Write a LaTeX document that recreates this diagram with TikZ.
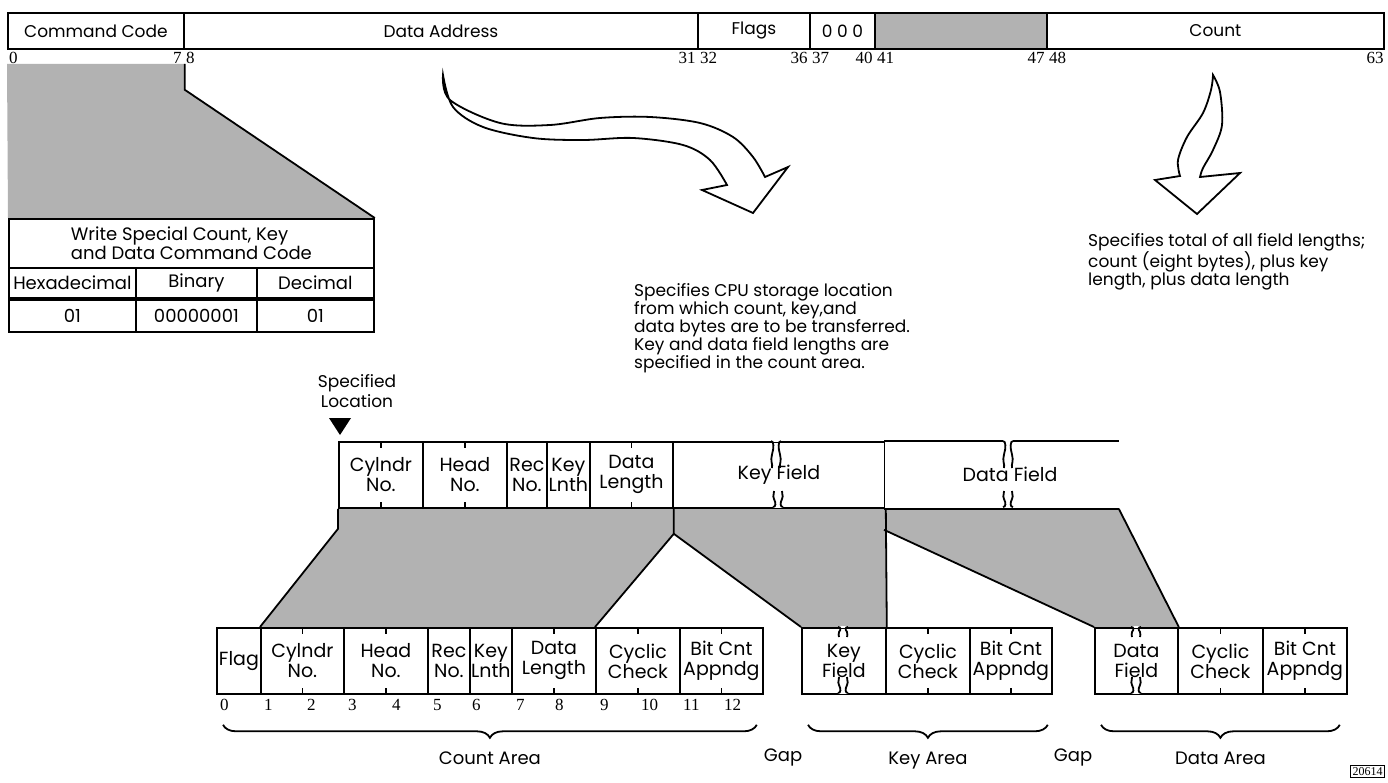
\documentclass[tikz,border=0pt]{standalone}
\usepackage{fontspec}
\setmainfont{Poppins}
\newfontfamily\numfont{Liberation Serif}
\usetikzlibrary{positioning, decorations.pathreplacing, backgrounds}

\begin{document}
\begin{tikzpicture}[x=1pt, y=-1pt,
        fld/.style={rectangle, draw, line width=1.8pt, fill=white, anchor=north west, inner sep=0pt, align=center},
        bar/.style={fld, minimum height=36pt, font=\fontsize{17}{20}\selectfont},
        rec/.style={fld, minimum height=66pt, font=\fontsize{19}{20}\selectfont},
        tbl/.style={fld, font=\fontsize{18}{19}\selectfont},
        bitno/.style={inner sep=0pt, font=\numfont\fontsize{17}{17}\selectfont},
        note/.style={inner sep=0pt, anchor=north west, align=left, font=\fontsize{17}{18}\selectfont},
        area/.style={inner sep=0pt, font=\fontsize{18}{20}\selectfont},
        shade/.style={fill=black!30},
        edge/.style={line width=1.8pt},
        curly/.style={decorate, decoration={brace, mirror, amplitude=13pt}, line width=1.8pt},
        pics/tear/.style={code={
            \fill[white] (-5,-1.4) rectangle (5,1.4);
            \draw[edge] (-5,0) .. controls (-2,0) and (-2,{0.25*#1}) .. (-4,{0.5*#1}) .. controls (-6,{0.75*#1}) and (-3,{0.85*#1}) .. (-4,#1);
            \draw[edge] (5,0) .. controls (2,0) and (2,{0.25*#1}) .. (4,{0.5*#1}) .. controls (6,{0.75*#1}) and (3,{0.85*#1}) .. (4,#1);
        }}
    ]
    \useasboundingbox (0,0) rectangle (1388,783);

    % Command word
    \node[bar, minimum width=176pt] (cmd) at (7,12) {Command Code};
    \node[bar, minimum width=514pt] (addr) at (183,12) {Data Address};
    \node[bar, minimum width=112pt] (flags) at (697,12) {Flags};
    \node[bar, minimum width=65pt] (zeros) at (809,12) {0 0 0};
    \node[bar, minimum width=172pt, shade] (spare) at (874,12) {};
    \node[bar, minimum width=337pt] (count) at (1046,12) {Count};

    % Bit numbers
    \node[bitno, below right=2pt and 2pt of cmd.south west] (n0) {0};
    \node[bitno, below left=2pt and 3pt of cmd.south east] (n7) {7};
    \node[bitno, below right=2pt and 3pt of addr.south west] (n8) {8};
    \node[bitno, below left=2pt and 3pt of addr.south east] (n31) {31};
    \node[bitno, below right=2pt and 3pt of flags.south west] (n32) {32};
    \node[bitno, below left=2pt and 3pt of flags.south east] (n36) {36};
    \node[bitno, below right=2pt and 3pt of zeros.south west] (n37) {37};
    \node[bitno, below left=2pt and 3pt of zeros.south east] (n40) {40};
    \node[bitno, below right=2pt and 3pt of spare.south west] (n41) {41};
    \node[bitno, below left=2pt and 3pt of spare.south east] (n47) {47};
    \node[bitno, below right=2pt and 3pt of count.south west] (n48) {48};
    \node[bitno, below left=2pt and 1pt of count.south east] (n63) {63};

    % Command code table
    \node[tbl, minimum width=365pt, minimum height=49pt, align=left] (ttl) at (8,218) {Write Special Count, Key\\and Data Command Code};
    \node[tbl, minimum width=127pt, minimum height=30pt] (hex) at (8,267) {Hexadecimal};
    \node[tbl, minimum width=121pt, minimum height=30pt] (bin) at (135,267) {Binary};
    \node[tbl, minimum width=117pt, minimum height=30pt] (dec) at (256,267) {Decimal};
    \node[tbl, minimum width=127pt, minimum height=32pt] (hexv) at (8,299) {01};
    \node[tbl, minimum width=121pt, minimum height=32pt] (binv) at (135,299) {00000001};
    \node[tbl, minimum width=117pt, minimum height=32pt] (decv) at (256,299) {01};

    % Hollow arrows
    \draw[edge, fill=white] plot[smooth, tension=0.55] coordinates {(443,75) (450,100) (500,123) (550,125) (600,118) (650,117) (700,123) (733,137) (753,157) (765,177)}
        -- (788,167) -- (753,213) -- (702,190)
        -- plot[smooth, tension=0.55] coordinates {(727,185) (710,160) (683,145) (633,138) (583,140) (533,138) (483,127) (453,107) (443,75)} -- cycle;
    \draw[edge, fill=white] plot[smooth, tension=0.55] coordinates {(1213,75) (1220,92) (1222,125) (1213,150) (1203,168) (1200,177)}
        -- (1240,173) -- (1197,214) -- (1155,180)
        -- plot[smooth, tension=0.55] coordinates {(1180,176) (1178,160) (1187,137) (1203,113) (1211,90) (1213,75)} -- cycle;

    % Notes
    \node[note] (cpunote) at (634,283) {Specifies CPU storage location\\from which count, key,and\\data bytes are to be transferred.\\Key and data field lengths are\\specified in the count area.};
    \node[note] (cntnote) at (1088,233) {Specifies total of all field lengths;\\count (eight bytes), plus key\\length, plus data length};

    % Record in storage
    \node[rec, minimum width=84pt] (mcyl) at (338,441) {Cylndr\\No.};
    \node[rec, minimum width=84pt] (mhead) at (422,441) {Head\\No.};
    \node[rec, minimum width=40pt] (mrec) at (506,441) {Rec\\No.};
    \node[rec, minimum width=43pt] (mkey) at (546,441) {Key\\Lnth};
    \node[rec, minimum width=83pt] (mdlen) at (589,441) {Data\\Length};
    \node[rec, minimum width=212pt] (mkfld) at (672,441) {Key Field};
    \node[rec, minimum width=233pt, draw=none] (mdfld) at (884,441) {};
    \node[area, font=\fontsize{19}{20}\selectfont] (mdlbl) at (1010,474) {Data Field};
    \draw[edge] (mdfld.north east) -- (mdfld.north west) (mdfld.south west) -- (mdfld.south east);

    \node[area, align=center, font=\fontsize{17}{20}\selectfont] (loc) at (357,391) {Specified\\Location};
    \coordinate (tip) at ([xshift=2pt, yshift=6pt]mcyl.north west);
    \fill (tip) -- ++(-11,-17) -- ++(22,0) -- cycle;

    % Record on track
    \node[rec, minimum width=44pt] (bflag) at (216,627) {Flag};
    \node[rec, minimum width=83pt] (bcyl) at (260,627) {Cylndr\\No.};
    \node[rec, minimum width=84pt] (bhead) at (343,627) {Head\\No.};
    \node[rec, minimum width=42pt] (brec) at (427,627) {Rec\\No.};
    \node[rec, minimum width=42pt] (bkey) at (469,627) {Key\\Lnth};
    \node[rec, minimum width=84pt] (bdlen) at (511,627) {Data\\Length};
    \node[rec, minimum width=84pt] (bcrc) at (595,627) {Cyclic\\Check};
    \node[rec, minimum width=83pt] (bbit) at (679,627) {Bit Cnt\\Appndg};
    \node[rec, minimum width=84pt] (bkfld) at (801,627) {Key\\Field};
    \node[rec, minimum width=84pt] (bkcrc) at (885,627) {Cyclic\\Check};
    \node[rec, minimum width=82pt] (bkbit) at (969,627) {Bit Cnt\\Appndg};
    \node[rec, minimum width=83pt] (bdfld) at (1094,627) {Data\\Field};
    \node[rec, minimum width=85pt] (bdcrc) at (1177,627) {Cyclic\\Check};
    \node[rec, minimum width=84pt] (bdbit) at (1262,627) {Bit Cnt\\Appndg};

    % Shaded mappings
    \coordinate (cs1) at ([yshift=-14pt]cmd.south west);
    \coordinate (cs2) at ([yshift=-14pt]cmd.south east);
    \coordinate (cs3) at ([yshift=-40pt]cmd.south east);
    \coordinate (cl) at ([yshift=-20pt]mcyl.south west);
    \coordinate (kt) at ([yshift=-25pt]mdlen.south east);
    \coordinate (dt) at ([yshift=-21pt]mdfld.south west);
    \begin{scope}[on background layer]
        \fill[shade] (cs1) -- (cs2) -- (cs3) -- (ttl.north east) -- (ttl.north west) -- cycle;
        \fill[shade] (mcyl.south west) -- (mdlen.south east) -- (kt) -- (bcrc.north west) -- (bcyl.north west) -- (cl) -- cycle;
        \fill[shade] (mkfld.south west) -- (mkfld.south east) -- (bkfld.north east) -- (bkfld.north west) -- (kt) -- cycle;
        \fill[shade] (mdfld.south west) -- (mdfld.south east) -- (bdfld.north east) -- (bdfld.north west) -- (dt) -- cycle;
    \end{scope}
    \draw[edge] (cs2) -- (cs3) -- (ttl.north east);
    \draw[edge] (mcyl.south west) -- (cl) -- (bcyl.north west);
    \draw[edge] (mdlen.south east) -- (kt) -- (bcrc.north west);
    \draw[edge] (kt) -- (bkfld.north west);
    \draw[edge] (mkfld.south east) -- (bkfld.north east);
    \draw[edge] (dt) -- (bdfld.north west);
    \draw[edge] (mdfld.south east) -- (bdfld.north east);

    % Byte ticks
    \draw[edge] (mcyl.north) -- ++(0,7) (mcyl.south) -- ++(0,-7)
        (mhead.north) -- ++(0,7) (mhead.south) -- ++(0,-7)
        (mdlen.north) -- ++(0,7) (mdlen.south) -- ++(0,-7);
    \draw[edge] (bcyl.north) -- ++(0,7) (bcyl.south) -- ++(0,-7)
        (bhead.north) -- ++(0,7) (bhead.south) -- ++(0,-7)
        (bdlen.north) -- ++(0,7) (bdlen.south) -- ++(0,-7)
        (bcrc.north) -- ++(0,7) (bcrc.south) -- ++(0,-7)
        (bbit.north) -- ++(0,7) (bbit.south) -- ++(0,-7);
    \draw[edge] (bkcrc.north) -- ++(0,7) (bkcrc.south) -- ++(0,-7)
        (bkbit.north) -- ++(0,7) (bkbit.south) -- ++(0,-7)
        (bdcrc.north) -- ++(0,7) (bdcrc.south) -- ++(0,-7)
        (bdbit.north) -- ++(0,7) (bdbit.south) -- ++(0,-7);

    % Field breaks
    \pic at (776,441) {tear=27};
    \pic[yscale=-1] at (778,507) {tear=16};
    \pic at (1008,441) {tear=27};
    \pic[yscale=-1] at (1008,507) {tear=16};
    \pic at (843,627) {tear=10};
    \pic[yscale=-1] at (843,693) {tear=16};
    \pic at (1136,627) {tear=10};
    \pic[yscale=-1] at (1136,693) {tear=16};

    % Byte numbers on track
    \node[bitno, anchor=north west] (t0) at (220,699) {0};
    \node[bitno, anchor=north west] (t1) at (264,699) {1};
    \node[bitno, anchor=north west] (t2) at (307,699) {2};
    \node[bitno, anchor=north west] (t3) at (348,699) {3};
    \node[bitno, anchor=north west] (t4) at (392,699) {4};
    \node[bitno, anchor=north west] (t5) at (433,699) {5};
    \node[bitno, anchor=north west] (t6) at (472,699) {6};
    \node[bitno, anchor=north west] (t7) at (516,699) {7};
    \node[bitno, anchor=north west] (t8) at (555,699) {8};
    \node[bitno, anchor=north west] (t9) at (600,699) {9};
    \node[bitno, anchor=north west] (t10) at (641,699) {10};
    \node[bitno, anchor=north west] (t11) at (683,699) {11};
    \node[bitno, anchor=north west] (t12) at (724,699) {12};

    % Areas
    \draw[curly] ([xshift=7pt, yshift=-30pt]bflag.south west) -- ([xshift=-7pt, yshift=-30pt]bbit.south east)
        node[area, midway, below=26pt] (carea) {Count Area};
    \draw[curly] ([xshift=7pt, yshift=-30pt]bkfld.south west) -- ([xshift=-5pt, yshift=-30pt]bkbit.south east)
        node[area, midway, below=26pt] (karea) {Key Area};
    \draw[curly] ([xshift=7pt, yshift=-30pt]bdfld.south west) -- ([xshift=-8pt, yshift=-30pt]bdbit.south east)
        node[area, midway, below=26pt] (darea) {Data Area};
    \node[area] (gap1) at (783,757) {Gap};
    \node[area] (gap2) at (1073,757) {Gap};

    \node[draw, line width=0.8pt, anchor=north east, inner sep=2pt, font=\numfont\fontsize{12}{12}\selectfont] (figno) at (1385,765) {20614};
\end{tikzpicture}
\end{document}
